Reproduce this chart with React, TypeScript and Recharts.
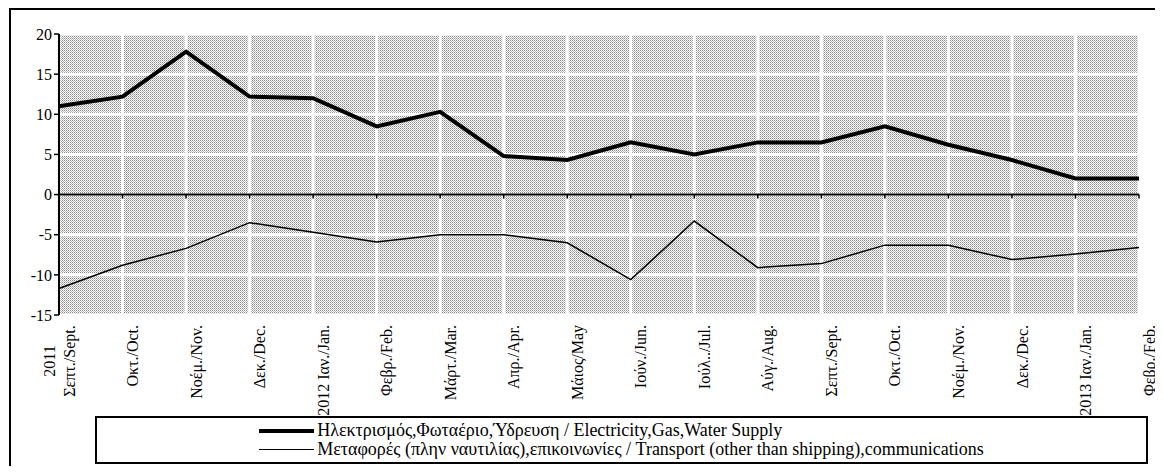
import React from 'react';
import { CartesianGrid, Line, LineChart, ReferenceLine, XAxis, YAxis } from 'recharts';

const months = [
  '2011\nΣεπτ./Sept.', 'Οκτ./Oct.', 'Νοέμ./Nov.', 'Δεκ./Dec.', '2012 Ιαν./Jan.', 'Φεβρ./Feb.',
  'Μάρτ./Mar.', 'Απρ./Apr.', 'Μάιος/May', 'Ιούν./Jun.', 'Ιούλ../Jul.', 'Αύγ./Aug.',
  'Σεπτ./Sept.', 'Οκτ./Oct.', 'Νοέμ./Nov.', 'Δεκ./Dec.', '2013 Ιαν./Jan.', 'Φεβρ./Feb.',
];
const electricity = [11.0, 12.2, 17.8, 12.2, 12.0, 8.5, 10.3, 4.8, 4.3, 6.5, 5.0, 6.5, 6.5, 8.5, 6.2, 4.3, 2.0, 2.0];
const transport = [-11.7, -8.8, -6.7, -3.5, -4.7, -5.9, -5.0, -5.0, -6.0, -10.6, -3.3, -9.1, -8.6, -6.3, -6.3, -8.1, -7.4, -6.6];
const yTicks = [-15, -10, -5, 0, 5, 10, 15, 20];

const elecName = 'Ηλεκτρισμός,Φωταέριο,Ύδρευση / Electricity,Gas,Water Supply';
const transName = 'Μεταφορές (πλην ναυτιλίας),επικοινωνίες / Transport (other than shipping),communications';

const data = months.map((m, i) => ({ i, elec: electricity[i], trans: transport[i] }));

const FONT = '"Liberation Serif", "Times New Roman", Times, serif';

// single-line labels hang from the axis; two-line labels are centred on each other
const MonthTick = (props: any) => {
  const { x, y, payload } = props;
  const lines = String(months[payload.value] ?? '').split('\n');
  const n = lines.length;
  const multi = n > 1;
  return (
    <g transform={`translate(${x + 10},${multi ? y + 36 : y})`}>
      <text transform="rotate(-90)" textAnchor={multi ? 'middle' : 'end'} fontSize={16} fontFamily={FONT} fill="#000">
        {lines.map((l, k) => (
          <tspan key={k} x={0} y={(k - (n - 1)) * 20} dy="0.35em">
            {l}
          </tspan>
        ))}
      </text>
    </g>
  );
};

const LegendRow = ({ width, label }: { width: number; label: string }) => (
  <div style={{ display: 'flex', alignItems: 'center', height: 19 }}>
    <div style={{ width: 55, height: width, background: '#000', marginRight: 3 }} />
    <span style={{ whiteSpace: 'nowrap' }}>{label}</span>
  </div>
);

export default function App() {
  return (
    <div style={{ position: 'relative', width: 1163, height: 474, margin: -8, overflow: 'hidden', fontFamily: FONT, background: '#fff' }}>
      <div style={{ position: 'absolute', top: -6, left: 0, width: 1163, textAlign: 'center', fontSize: 13, lineHeight: '14px' }}>
        (%) Μεταβολή έναντι προηγούμενου έτους / Change over previous year
      </div>
      <div style={{ position: 'absolute', left: 9, top: 8, width: 1170, height: 480, border: '2px solid #000' }} />
      <div style={{ position: 'absolute', left: 0, top: 0 }}>
        <LineChart width={1163} height={474} data={data} margin={{ top: 34, right: 24, bottom: 59, left: 10 }}>
          <defs>
            <pattern id="dots" width="2" height="2" patternUnits="userSpaceOnUse">
              <rect width="2" height="2" fill="#fff" />
              <rect x="0" y="0" width="1" height="1" fill="#8a8a8a" />
              <rect x="1" y="1" width="1" height="1" fill="#b8b8b8" />
            </pattern>
          </defs>
          <CartesianGrid fill="url(#dots)" stroke="#fff" strokeWidth={3} />
          <XAxis
            type="number"
            dataKey="i"
            domain={[0, months.length - 1]}
            ticks={months.map((_, i) => i)}
            interval={0}
            axisLine={false}
            tickLine={false}
            tick={<MonthTick />}
            tickSize={8}
            tickMargin={2}
            height={100}
          />
          <YAxis
            domain={[-15, 20]}
            ticks={yTicks}
            interval={0}
            width={49}
            axisLine={{ stroke: '#000', strokeWidth: 2 }}
            tickLine={{ stroke: '#000', strokeWidth: 1.5 }}
            tickSize={5}
            tick={{ fontSize: 16, fontFamily: FONT, fill: '#000' }}
          />
          <ReferenceLine y={0} stroke="#000" strokeWidth={2} />
          {months.map((_, i) => (
            <ReferenceLine
              key={i}
              segment={[
                { x: i, y: 0 },
                { x: i, y: -0.5 },
              ]}
              stroke="#000"
              strokeWidth={1.5}
            />
          ))}
          <Line type="linear" dataKey="elec" stroke="#000" strokeWidth={4} dot={false} isAnimationActive={false} />
          <Line type="linear" dataKey="trans" stroke="#000" strokeWidth={1.5} dot={false} isAnimationActive={false} />
        </LineChart>
      </div>
      <div
        style={{
          position: 'absolute',
          left: 95,
          top: 416,
          width: 1049,
          height: 44,
          border: '2px solid #000',
          background: '#fff',
          display: 'flex',
          justifyContent: 'center',
          alignItems: 'center',
          fontSize: 18,
        }}
      >
        <div>
          <LegendRow width={4} label={elecName} />
          <LegendRow width={1.5} label={transName} />
        </div>
      </div>
    </div>
  );
}
